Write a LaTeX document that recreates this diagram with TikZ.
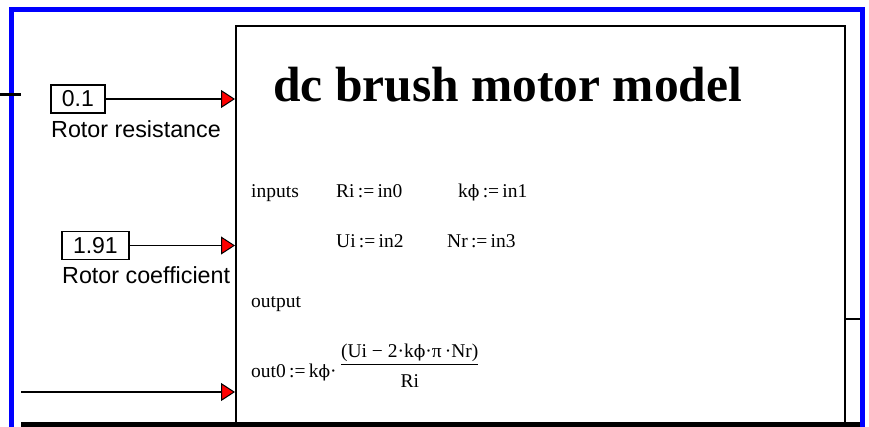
\documentclass[tikz,border=0pt]{standalone}
\usepackage{fontspec}
\setmainfont{Liberation Serif}
\newfontfamily\guifont{Liberation Sans}
\newfontfamily\phifont{DejaVu Serif}
\newcommand\kphi{k{\phifont\fontsize{17}{20}\selectfont ϕ}}
\usetikzlibrary{arrows.meta}
\definecolor{frameblue}{RGB}{0,0,255}
\definecolor{tipred}{RGB}{255,0,0}
\tikzset{
  constbox/.style={draw, line width=1.8, minimum height=28, inner sep=0,
    font=\guifont\fontsize{23}{27}\selectfont},
  guilabel/.style={inner sep=0, anchor=base west, font=\guifont\fontsize{23.3}{27}\selectfont},
  mtext/.style={inner sep=0, anchor=base west, font=\fontsize{19.5}{23}\selectfont},
  sigarrow/.style={line width=1.8, -{Triangle[length=14pt,width=18pt,fill=tipred,line width=1pt]}}
}
\begin{document}
\begin{tikzpicture}[x=1pt,y=-1pt]
\useasboundingbox (0,0) rectangle (869,426);
\draw[frameblue, line width=5] (11.7,9.8) rectangle (862,440);
\fill (21,422) rectangle (860,432);
\node[draw, line width=1.5, anchor=north west, minimum width=609, minimum height=430, inner sep=0] (motor) at (235,25) {};
\node[inner sep=0, anchor=base west, font=\bfseries\fontsize{49.5}{55}\selectfont] (title) at (273,101) {dc brush motor model};
\node[mtext] (inp) at (251,197) {inputs};
\node[mtext] (ri) at (336,197) {Ri\,:=\,in0};
\node[mtext] (kphi) at (458,197) {\kphi\,:=\,in1};
\node[mtext] (ui) at (336,247) {Ui\,:=\,in2};
\node[mtext] (nr) at (447,247) {Nr\,:=\,in3};
\node[mtext] (outp) at (251,307) {output};
\node[mtext] (out) at (251,377) {out0\,:=\,\kphi·};
\node[inner sep=0, anchor=west, font=\fontsize{19.5}{23}\selectfont] (frac) at ([xshift=4]out.east |- 0,368)
  {\begin{tabular}{@{}c@{}}(Ui − 2·\kphi·π\,·Nr)\\[-1pt]\hline\rule{0pt}{23pt}Ri\end{tabular}};
\foreach \name/\val/\lab/\cx/\cy/\w in {res/0.1/Rotor resistance/50/99/54, coef/1.91/Rotor coefficient/61/245.5/67}{
  \node[constbox, minimum width=\w, anchor=west] (\name) at (\cx,\cy) {\val};
  \node[guilabel] (\name lab) at (\cx+1,\cy+38) {\lab};
  \draw[sigarrow] (\name.east) -- (\name.east -| motor.west);
}
\coordinate (feed) at (21,392);
\draw[sigarrow] (feed) -- (feed -| motor.west);
\coordinate (tickL) at (0,94);
\draw[line width=3] (tickL) -- ++(21,0);
\coordinate (outR) at (860,319);
\draw[line width=1.5] (outR -| motor.east) -- (outR);
\end{tikzpicture}
\end{document}
